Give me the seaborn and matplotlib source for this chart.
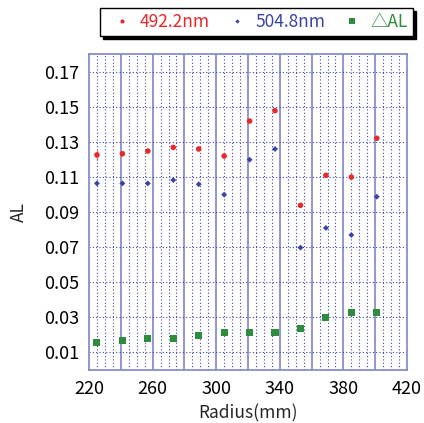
import numpy as np
import pandas as pd
import matplotlib
matplotlib.use("Agg")
import matplotlib.pyplot as plt
import seaborn as sns
from matplotlib.ticker import MultipleLocator, FixedLocator

# measurement radii (mm)
radius = [225, 241, 257, 273, 289, 305, 321, 337, 353, 369, 385, 401]
# absorbance at 492.2 nm
al_492 = [0.1225, 0.1232, 0.1247, 0.1268, 0.1259, 0.1219,
          0.1418, 0.1477, 0.0938, 0.1109, 0.1099, 0.1320]
# spread of the first readings at 492.2 nm
err_492 = [0.0030, 0.0015, 0, 0, 0, 0, 0, 0, 0, 0, 0, 0]
# absorbance at 504.8 nm
al_505 = [0.1063, 0.1063, 0.1063, 0.1082, 0.1058, 0.0999,
          0.1198, 0.1259, 0.0697, 0.0809, 0.0769, 0.0987]
# difference between the two wavelengths
delta_al = [0.0158, 0.0167, 0.0182, 0.0182, 0.0198, 0.0216,
            0.0216, 0.0216, 0.0237, 0.0298, 0.0329, 0.0329]

series_names = ["492.2nm", "504.8nm", "\u25b3AL"]
x_ticks = [220, 260, 300, 340, 380, 420]
y_ticks = [0.01, 0.03, 0.05, 0.07, 0.09, 0.11, 0.13, 0.15, 0.17]

df = pd.DataFrame({
    "Radius": radius * 3,
    "AL": al_492 + al_505 + delta_al,
    "series": [series_names[0]] * len(radius)
              + [series_names[1]] * len(radius)
              + [series_names[2]] * len(radius),
})

sns.set_theme(style="white")
plt.rcParams["font.family"] = ["Noto Sans CJK KR", "DejaVu Sans"]

colors = {series_names[0]: "#e8292b", series_names[1]: "#3a44a4",
          series_names[2]: "#2f8c3f"}
markers = {series_names[0]: "o", series_names[1]: "D", series_names[2]: "s"}
sizes = {series_names[0]: 16, series_names[1]: 9, series_names[2]: 26}

fig = plt.figure(figsize=(4.24, 4.23), dpi=100)
ax = fig.add_axes([89 / 424, 53 / 423, 318 / 424, 316 / 423])

grid_solid = "#7d86c6"
grid_dot = "#3d48a8"

ax.set_xlim(220, 420)
ax.set_ylim(0, 0.18)
ax.xaxis.set_major_locator(FixedLocator(x_ticks))
ax.yaxis.set_major_locator(FixedLocator(y_ticks))
ax.xaxis.set_minor_locator(MultipleLocator(5))

# vertical grid: dotted every 5 mm, solid every 20 mm
for xv in np.arange(225, 420, 5):
    if xv % 20 == 0:
        ax.axvline(xv, color=grid_solid, lw=1.2, zorder=1)
    else:
        ax.axvline(xv, color=grid_dot, lw=0.8, ls=(0, (1, 2)), zorder=1)
for yv in y_ticks:
    ax.axhline(yv, color=grid_dot, lw=0.8, ls=(0, (1, 2)), zorder=1)

ax.errorbar(radius, al_492, yerr=err_492, fmt="none",
            ecolor=colors[series_names[0]], elinewidth=1.0, alpha=0.6, zorder=2)

for name in series_names:
    sub = df[df["series"] == name]
    sns.scatterplot(data=sub, x="Radius", y="AL", ax=ax,
                    color=colors[name], marker=markers[name], s=sizes[name],
                    edgecolor="none", linewidth=0, zorder=3, label=name,
                    legend=False)

for sp in ax.spines.values():
    sp.set_color(grid_solid)
    sp.set_linewidth(1.2)

ax.tick_params(axis="both", which="both", length=0, labelsize=13,
               colors="black")
ax.tick_params(axis="y", pad=7)
ax.tick_params(axis="x", pad=7)
ax.set_yticklabels([f"{v:.2f}" for v in y_ticks])
ax.set_xticklabels([str(v) for v in x_ticks])
ax.set_xlabel("Radius(mm)", fontsize=12.5, labelpad=5)
ax.set_ylabel("AL", fontsize=12.5, labelpad=12)

handles = [
    plt.Line2D([], [], ls="none", marker=markers[n], color=colors[n],
               markersize={"492.2nm": 3, "504.8nm": 2.2}.get(n, 4),
               markeredgewidth=0)
    for n in series_names
]
leg = fig.legend(handles, series_names, loc="center", ncol=3,
                 bbox_to_anchor=(100 / 424, 1 - 35 / 423, 313 / 424, 26 / 423),
                 mode="expand", fontsize=12.5, frameon=True, fancybox=False,
                 shadow={"color": "black", "alpha": 1.0},
                 handlelength=1.9, handletextpad=0.1, columnspacing=1.0,
                 borderpad=0.3, borderaxespad=0)
leg.get_frame().set_edgecolor("black")
leg.get_frame().set_linewidth(1.0)
for txt, n in zip(leg.get_texts(), series_names):
    txt.set_color(colors[n])

fig.savefig("out.png", dpi=100)
